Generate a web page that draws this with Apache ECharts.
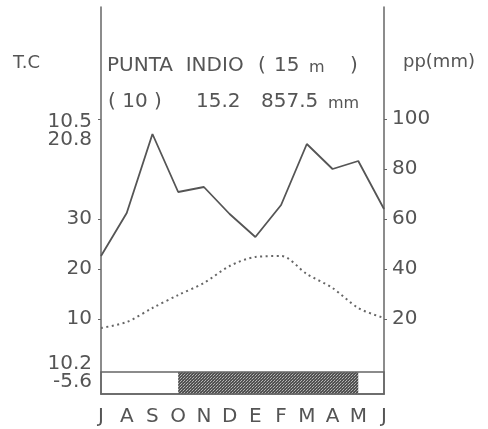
<!DOCTYPE html>
<html><head><meta charset="utf-8">
<script src="https://cdn.jsdelivr.net/npm/echarts@6/dist/echarts.min.js"></script>
<style>html,body{margin:0;padding:0;background:#fff}#c{width:488px;height:429px}</style>
</head><body><div id="c"></div>
<script>
// Months (July to June), labels show the first letter (Spanish)
const months = ['Jul','Ago','Sep','Oct','Nov','Dic','Ene','Feb','Mar','Abr','May','Jun'];
// Monthly precipitation (mm)
const precip = [45.2, 62.4, 94, 70.8, 72.8, 62, 52.8, 65.6, 90, 80, 83.2, 64];
// Monthly mean temperature (°C)
const temp = [8.2, 9.4, 12.2, 14.8, 17.2, 20.6, 22.4, 22.6, 19.0, 16.2, 12.2, 10.2];
// Axis ticks
const tempTicks = [10, 20, 30, 50];
const ppTicks = [20, 40, 60, 80, 100];
// Frost bar period
const frostStart = 'Oct', frostEnd = 'May';
const frostTop = -0.6;
// Annotation values
const topAnnot = '10.5\n20.8', topAnnotAt = 47.7;
const botAnnot = '10.2\n-5.6', botAnnotAt = -0.8;

const GRAY = '#555';
const FONT = 'DejaVu Sans';

// hatch pattern
const pc = document.createElement('canvas');
pc.width = 3; pc.height = 3;
const pctx = pc.getContext('2d');
pctx.fillStyle = '#505050'; pctx.fillRect(0,0,3,3);
pctx.fillStyle = '#b5b5b5'; pctx.fillRect(0,0,1,1); pctx.fillRect(1,2,1,1);
pctx.fillStyle = '#808080'; pctx.fillRect(2,1,1,1);

const chart = echarts.init(document.getElementById('c'));
const txt = (text, x, y, size, align) => ({type:'text', x:x, y:y, silent:true,
  style:{text:text, font: size+'px "'+FONT+'"', fill:GRAY, verticalAlign:'middle', align: align||'left'}});

chart.setOption({
  animation:false,
  grid:{left:101, right:104, top:7, bottom:35},
  xAxis:{type:'category', data:months, boundaryGap:false,
    axisLine:{onZero:false, lineStyle:{color:'#666', width:1.5}}, axisTick:{show:false},
    axisLabel:{formatter:v=>v[0], color:GRAY, fontFamily:FONT, fontSize:20, margin:13}},
  yAxis:[
    {type:'value', position:'left', min:-5, max:72.4,
     splitLine:{show:false},
     axisLine:{show:true, lineStyle:{color:'#666', width:1.5}},
     axisTick:{show:true, length:3, lineStyle:{color:'#666'}, customValues:tempTicks},
     axisLabel:{customValues:[botAnnotAt,10,20,30,topAnnotAt], color:GRAY, fontFamily:FONT, fontSize:20, margin:9,
       lineHeight:18,
       formatter:v=> v===topAnnotAt?topAnnot:(v===botAnnotAt?botAnnot:String(v))}},
    {type:'value', position:'right', min:-10, max:144.8,
     splitLine:{show:false},
     axisLine:{show:true, lineStyle:{color:'#666', width:1.5}},
     axisTick:{show:true, length:3, lineStyle:{color:'#666'}, customValues:ppTicks},
     axisLabel:{customValues:ppTicks, color:GRAY, fontFamily:FONT, fontSize:20, margin:8}}
  ],
  series:[
    {type:'line', yAxisIndex:1, data:precip, symbol:'none',
     lineStyle:{color:GRAY, width:1.8}},
    {type:'line', yAxisIndex:0, data:temp, symbol:'none', smooth:0.3,
     lineStyle:{color:'#666', width:2, type:[2,3.5]},
     markArea:{silent:true,
       data:[
         [{xAxis:frostStart, yAxis:frostTop, itemStyle:{color:{image:pc, repeat:'repeat'}}},{xAxis:frostEnd, yAxis:-5}],
         [{xAxis:months[0], yAxis:frostTop, itemStyle:{color:'rgba(0,0,0,0)', borderColor:'#666', borderWidth:1.5}},{xAxis:months[11], yAxis:-5}]
       ]}}
  ],
  graphic:[
    txt('T.C', 13, 63, 18),
    txt('pp(mm)', 403, 62, 18),
    txt('PUNTA  INDIO', 107, 66, 20),
    txt('(', 258, 66, 20),
    txt('15', 274, 66, 20),
    txt('m', 309, 68, 16),
    txt(')', 350, 66, 20),
    txt('( 10 )', 108, 102, 20),
    txt('15.2', 196, 102, 20),
    txt('857.5', 261, 102, 20),
    txt('mm', 328, 104, 16)
  ]
});
</script></body></html>
